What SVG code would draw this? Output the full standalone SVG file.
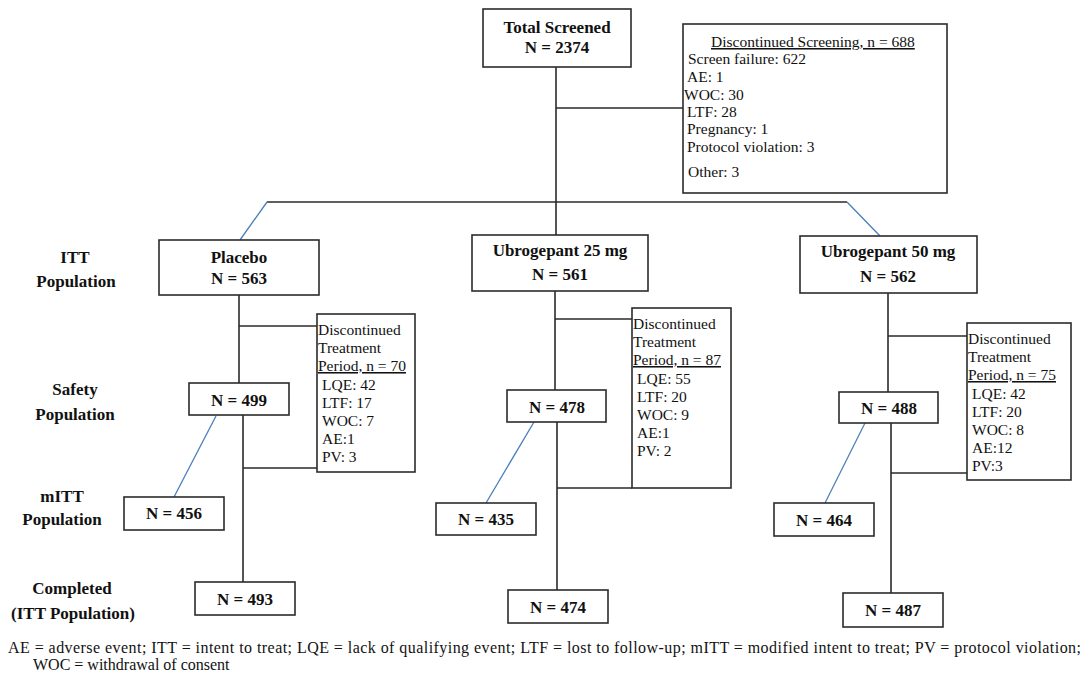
<svg xmlns="http://www.w3.org/2000/svg" width="1084" height="677" viewBox="0 0 1084 677">
<style>
.box{fill:#fff;stroke:#2b2b2b;stroke-width:1.6}
.ln{stroke:#2b2b2b;stroke-width:1.6;fill:none}
.bl{stroke:#4a7ebb;stroke-width:1.3;fill:none}
.b{font-family:"Liberation Serif",serif;font-weight:bold;font-size:17px;fill:#111;text-anchor:middle}
.r{font-family:"Liberation Serif",serif;font-size:15.5px;fill:#111}
.u{text-decoration:underline}
.fn{font-family:"Liberation Serif",serif;font-size:16px;fill:#111}
</style>
<rect width="1084" height="677" fill="#fff"/>
<g id="connectors">
<path class="ln" d="M556 67V202M556 108H683M267 202H847M556 202V235"/>
<path class="bl" d="M267 202L240 240M847 202L880 236"/>
<path class="ln" d="M239 295V383M239 326H317M243 415V582M243 468H317"/>
<path class="bl" d="M216 416L174 497"/>
<path class="ln" d="M555 291V390M555 319H632M557 422V590M557 488H632"/>
<path class="bl" d="M534 422L486 503"/>
<path class="ln" d="M888 293V392M888 336H967M891 423V593M891 473H967"/>
<path class="bl" d="M865 423L825 503"/>
</g>
<g id="total">
<rect class="box" x="483" y="9" width="148" height="58"/>
<text class="b" x="557" y="33">Total Screened</text>
<text class="b" x="557" y="53">N = 2374</text>
</g>
<g id="disc-screen">
<rect class="box" x="683" y="24" width="264" height="169"/>
<text class="r u" x="711" y="47">Discontinued Screening, n = 688</text>
<text class="r" x="688" y="64">Screen failure: 622</text>
<text class="r" x="687" y="82">AE: 1</text>
<text class="r" x="684" y="100">WOC: 30</text>
<text class="r" x="687" y="117">LTF: 28</text>
<text class="r" x="687" y="134">Pregnancy: 1</text>
<text class="r" x="687" y="152">Protocol violation: 3</text>
<text class="r" x="688" y="177">Other: 3</text>
</g>
<g id="labels">
<text class="b" x="75" y="263">ITT</text>
<text class="b" x="76" y="287">Population</text>
<text class="b" x="75" y="395">Safety</text>
<text class="b" x="75" y="420">Population</text>
<text class="b" x="62" y="502">mITT</text>
<text class="b" x="62" y="525">Population</text>
<text class="b" x="72" y="594">Completed</text>
<text class="b" x="73" y="619">(ITT Population)</text>
</g>
<g id="placebo">
<rect class="box" x="159" y="240" width="160" height="55"/>
<text class="b" x="239" y="263">Placebo</text>
<text class="b" x="239" y="284">N = 563</text>
</g>
<g id="disc-placebo">
<rect class="box" x="317" y="314" width="98" height="158"/>
<text class="r" x="318" y="335">Discontinued</text>
<text class="r" x="318" y="353">Treatment</text>
<text class="r u" x="318" y="371">Period, n = 70</text>
<text class="r" x="322" y="390">LQE: 42</text>
<text class="r" x="322" y="408">LTF: 17</text>
<text class="r" x="322" y="426">WOC: 7</text>
<text class="r" x="322" y="444">AE:1</text>
<text class="r" x="322" y="462">PV: 3</text>
</g>
<g id="p-safety"><rect class="box" x="189" y="383" width="100" height="32"/><text class="b" x="239" y="406">N = 499</text></g>
<g id="p-mitt"><rect class="box" x="124" y="497" width="100" height="33"/><text class="b" x="174" y="519">N = 456</text></g>
<g id="p-comp"><rect class="box" x="195" y="582" width="100" height="33"/><text class="b" x="245" y="605">N = 493</text></g>
<g id="u25">
<rect class="box" x="472" y="235" width="176" height="56"/>
<text class="b" x="560" y="256">Ubrogepant 25 mg</text>
<text class="b" x="560" y="280">N = 561</text>
</g>
<g id="disc-u25">
<rect class="box" x="632" y="308" width="99" height="180"/>
<text class="r" x="633" y="329">Discontinued</text>
<text class="r" x="633" y="347">Treatment</text>
<text class="r u" x="633" y="365">Period, n = 87</text>
<text class="r" x="637" y="384">LQE: 55</text>
<text class="r" x="637" y="402">LTF: 20</text>
<text class="r" x="637" y="420">WOC: 9</text>
<text class="r" x="637" y="438">AE:1</text>
<text class="r" x="637" y="456">PV: 2</text>
</g>
<g id="u25-safety"><rect class="box" x="507" y="390" width="99" height="32"/><text class="b" x="557" y="413">N = 478</text></g>
<g id="u25-mitt"><rect class="box" x="436" y="503" width="100" height="32"/><text class="b" x="486" y="525">N = 435</text></g>
<g id="u25-comp"><rect class="box" x="508" y="590" width="100" height="33"/><text class="b" x="558" y="613">N = 474</text></g>
<g id="u50">
<rect class="box" x="800" y="236" width="177" height="57"/>
<text class="b" x="888" y="257">Ubrogepant 50 mg</text>
<text class="b" x="888" y="282">N = 562</text>
</g>
<g id="disc-u50">
<rect class="box" x="967" y="323" width="104" height="157"/>
<text class="r" x="968" y="344">Discontinued</text>
<text class="r" x="968" y="362">Treatment</text>
<text class="r u" x="968" y="380">Period, n = 75</text>
<text class="r" x="972" y="399">LQE: 42</text>
<text class="r" x="972" y="417">LTF: 20</text>
<text class="r" x="972" y="435">WOC: 8</text>
<text class="r" x="972" y="453">AE:12</text>
<text class="r" x="972" y="471">PV:3</text>
</g>
<g id="u50-safety"><rect class="box" x="839" y="392" width="99" height="31"/><text class="b" x="889" y="414">N = 488</text></g>
<g id="u50-mitt"><rect class="box" x="774" y="503" width="100" height="33"/><text class="b" x="824" y="526">N = 464</text></g>
<g id="u50-comp"><rect class="box" x="843" y="593" width="100" height="34"/><text class="b" x="893" y="616">N = 487</text></g>
<g id="footnote">
<text class="fn" x="8" y="653" textLength="1073" lengthAdjust="spacing">AE = adverse event; ITT = intent to treat; LQE = lack of qualifying event; LTF = lost to follow-up; mITT = modified intent to treat; PV = protocol violation;</text>
<text class="fn" x="33" y="670">WOC = withdrawal of consent</text>
</g>
</svg>
